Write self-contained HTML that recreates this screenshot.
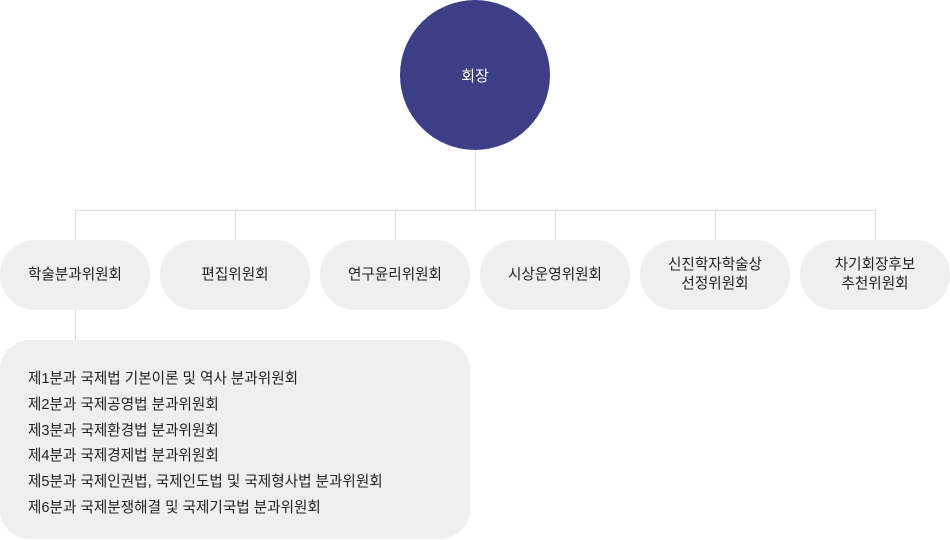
<!DOCTYPE html>
<html><head><meta charset="utf-8"><style>
body{margin:0;width:950px;height:540px;background:#fff;position:relative;overflow:hidden;font-family:"Liberation Sans","Noto Sans CJK KR",sans-serif;color:#222}
.c{position:absolute;left:400px;top:0;width:150px;height:150px;border-radius:50%;background:#3c3f85;color:#fff;font-size:15px;display:flex;align-items:center;justify-content:center}
.l{position:absolute;background:#ddd}
.p{position:absolute;top:240px;width:150px;height:70px;border-radius:35px;background:#efefef;display:flex;align-items:center;justify-content:center;text-align:center;font-size:14.6px;line-height:19px}
.b{position:absolute;left:0;top:340px;width:470px;height:199px;border-radius:30px;background:#efefef;box-sizing:border-box;padding:27px 0 0 28px;font-size:14.6px;line-height:25.8px}
</style></head><body>
<div class="c">회장</div>
<div class="l" style="left:475px;top:150px;width:1px;height:60px"></div>
<div class="l" style="left:75px;top:210px;width:801px;height:1px"></div>
<div class="l" style="left:75px;top:210px;width:1px;height:30px"></div>
<div class="l" style="left:235px;top:210px;width:1px;height:30px"></div>
<div class="l" style="left:395px;top:210px;width:1px;height:30px"></div>
<div class="l" style="left:555px;top:210px;width:1px;height:30px"></div>
<div class="l" style="left:715px;top:210px;width:1px;height:30px"></div>
<div class="l" style="left:875px;top:210px;width:1px;height:30px"></div>
<div class="l" style="left:75px;top:310px;width:1px;height:30px"></div>
<div class="p" style="left:0">학술분과위원회</div>
<div class="p" style="left:160px">편집위원회</div>
<div class="p" style="left:320px">연구윤리위원회</div>
<div class="p" style="left:480px">시상운영위원회</div>
<div class="p" style="left:640px">신진학자학술상<br>선정위원회</div>
<div class="p" style="left:800px">차기회장후보<br>추천위원회</div>
<div class="b">제1분과 국제법 기본이론 및 역사 분과위원회<br>제2분과 국제공영법 분과위원회<br>제3분과 국제환경법 분과위원회<br>제4분과 국제경제법 분과위원회<br>제5분과 국제인권법, 국제인도법 및 국제형사법 분과위원회<br>제6분과 국제분쟁해결 및 국제기국법 분과위원회</div>
</body></html>
